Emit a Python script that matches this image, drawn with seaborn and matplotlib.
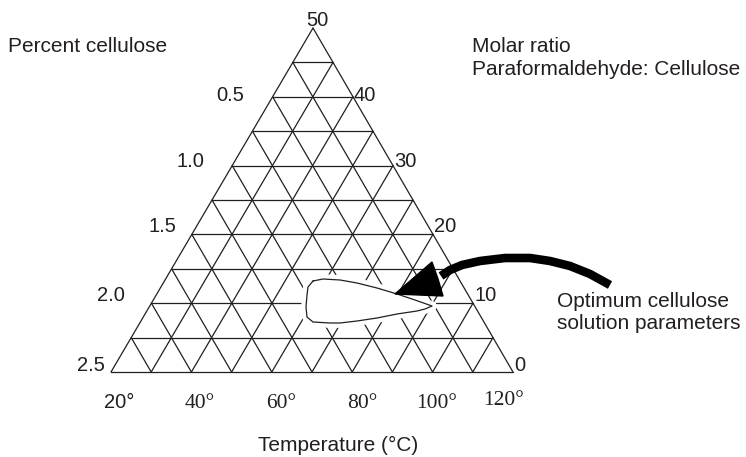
import numpy as np
import pandas as pd
import matplotlib
matplotlib.use("Agg")
import matplotlib.pyplot as plt
import seaborn as sns

# Ternary diagram data
n_div = 10
cellulose_ticks = ["0.5", "1.0", "1.5", "2.0", "2.5"]          # percent cellulose (left edge)
molar_ticks = ["50", "40", "30", "20", "10", "0"]             # molar ratio (right edge)
temperature_ticks = ["20°", "40°", "60°", "80°", "100°", "120°"]  # bottom scale

# Optimum region outline (pixel space of the drawing)
blob_x = [313, 323, 340, 357, 377, 397, 415, 432, 425, 417, 397, 377, 357, 340, 330,
          313, 307, 306, 307, 308]
blob_y = [281, 279, 280, 283, 288, 294, 300, 306, 309, 311, 314, 318, 321, 323, 323,
          322, 317, 307, 295, 287]

sns.set_theme(style="white")
plt.rcParams["font.family"] = ["Liberation Sans", "DejaVu Sans"]

INK = "#231f20"
W, H = 746, 457
fig = plt.figure(figsize=(W / 100, H / 100), dpi=100)
ax = fig.add_axes([0, 0, 1, 1])
ax.set_xlim(0, W)
ax.set_ylim(H, 0)
ax.axis("off")

# triangle corners
BL = np.array([111.0, 372.0])
BR = np.array([513.0, 372.0])
AP = np.array([313.0, 28.0])

segs = []
def add(p, q):
    sid = len(segs)
    segs.append({"seg": sid, "x": p[0], "y": p[1]})
    segs.append({"seg": sid, "x": q[0], "y": q[1]})

for k in range(0, n_div + 1):
    t = k / n_div
    # horizontal lines
    if k > 0:
        add(AP + t * (BL - AP), AP + t * (BR - AP))
    # lines parallel to the left edge
    if k < n_div:
        add((1 - t) * BL + t * BR, t * BR + (1 - t) * AP)
    # lines parallel to the right edge
    if k > 0:
        add((1 - t) * BL + t * BR, (1 - t) * BL + t * AP)

grid = pd.DataFrame(segs)
sns.lineplot(data=grid, x="x", y="y", units="seg", estimator=None, sort=False,
             color=INK, lw=0.9, ax=ax, legend=False)

# optimum region: white halo clears the grid around it
bx = blob_x + [blob_x[0]]
by = blob_y + [blob_y[0]]
ax.fill(bx, by, color="white", zorder=3)
ax.plot(bx, by, color="white", lw=7, zorder=3, solid_joinstyle="round")
ax.plot(bx, by, color=INK, lw=0.9, zorder=4, solid_joinstyle="round")

# curved arrow pointing to the region
shaft_x = [610, 590, 570, 550, 530, 505, 480, 462, 450, 441]
shaft_y = [285, 274, 266, 261, 258, 258, 261, 265, 270, 276]
ax.plot(shaft_x, shaft_y, color="black", lw=6.2, solid_capstyle="butt",
        solid_joinstyle="round", zorder=5)
ax.fill([395, 432, 438, 443], [294, 262, 279, 296], color="black", zorder=5)

fs = 14.5
# small baseline nudges per labelled level
nudge = [4, 1, -2, -2, -1]

# left edge labels (percent cellulose)
left_x = [244, 204, 176, 125, 105]
for i, lab in enumerate(cellulose_ticks):
    k = 2 * (i + 1)
    y = AP[1] + k / n_div * (BL[1] - AP[1])
    ax.text(left_x[i], y + nudge[i], lab, ha="right", va="baseline", fontsize=fs, color=INK)

# right edge labels (molar ratio)
for i, lab in enumerate(molar_ticks):
    k = 2 * i
    p = AP + k / n_div * (BR - AP)
    if k == 0:
        ax.text(p[0] + 4, p[1] - 2, lab, ha="center", va="baseline", fontsize=fs, color=INK)
    else:
        ax.text(p[0] + 1, p[1] + nudge[i - 1], lab, ha="left", va="baseline",
                fontsize=fs, color=INK)

# bottom temperature labels
temp_x = [119, 200, 281, 362, 437, 504]
for i, lab in enumerate(temperature_ticks):
    if i == 0:
        fam, size = ["Liberation Sans"], fs
    else:
        fam, size = ["Liberation Serif", "DejaVu Serif"], 15.5
    yb = 405 if i == len(temperature_ticks) - 1 else 408
    ax.text(temp_x[i], yb, lab, ha="center", va="baseline", fontsize=size,
            color=INK, family=fam)

fs2 = 15
ax.text(8, 52, "Percent cellulose", ha="left", va="baseline", fontsize=fs2, color=INK)
ax.text(472, 52, "Molar ratio", ha="left", va="baseline", fontsize=fs2, color=INK)
ax.text(472, 75, "Paraformaldehyde: Cellulose", ha="left", va="baseline",
        fontsize=fs2, color=INK)
ax.text(557, 307, "Optimum cellulose", ha="left", va="baseline", fontsize=fs2, color=INK)
ax.text(557, 329, "solution parameters", ha="left", va="baseline", fontsize=fs2, color=INK)
ax.text(338, 451, "Temperature (°C)", ha="center", va="baseline", fontsize=fs2, color=INK)

fig.savefig("out.png", dpi=100, facecolor="white")
